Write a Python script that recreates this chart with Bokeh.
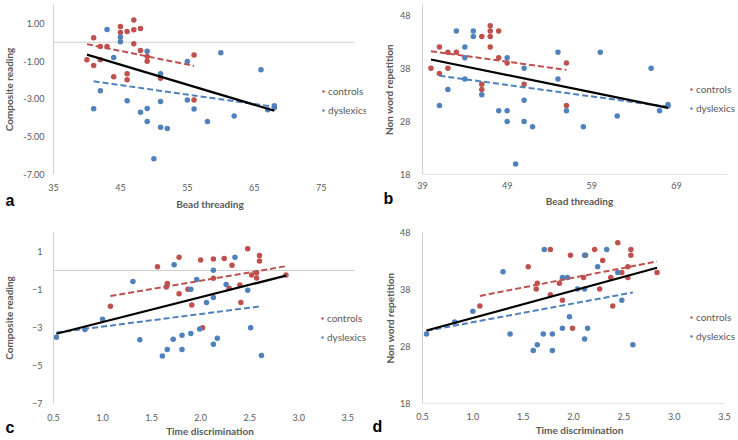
import numpy as np
from bokeh.plotting import figure
from bokeh.models import Range1d, FixedTicker, NumeralTickFormatter, Legend, LegendItem, Title
from bokeh.layouts import column, row
from bokeh.embed import file_html
from bokeh.resources import INLINE

# ---------------- data ----------------
# Panel a: Bead threading vs Composite reading
a_ctrl_x = [40, 41, 41, 42, 42, 43, 44, 45, 45, 46, 46, 46, 47, 47, 47, 48, 48, 49, 49, 51, 56, 56]
a_ctrl_y = [-0.93, 0.24, -1.23, -0.22, -0.93, -0.22, -1.83, 0.84, 0.52, 0.57, -1.67, -1.99,
            0.66, 1.18, -0.08, 0.73, -0.43, -0.75, -1.00, -1.90, -0.68, -3.05]
a_dys_x = [41, 42, 43, 44, 45, 45, 46, 48, 49, 49, 49, 50, 51, 51, 51, 52, 55, 55, 56, 58,
           60, 62, 66, 67, 68, 68]
a_dys_y = [-3.52, -2.57, 0.68, -0.81, 0.27, 0.03, -3.09, -3.71, -0.47, -3.50, -4.20, -6.17,
           -1.67, -3.14, -4.50, -4.56, -1.02, -3.05, -3.53, -4.20, -0.55, -3.90, -1.45,
           -3.57, -3.46, -3.36]

# Panel b: Bead threading vs Non word repetition
b_ctrl_x = [40, 41, 41, 42, 42, 43, 46, 46, 46, 47, 47, 47, 47, 48, 48, 49, 51, 56, 56]
b_ctrl_y = [38, 42, 37, 41, 38, 41, 44, 35, 34, 46, 45, 44, 42, 45, 40, 39, 35, 39, 31]
b_dys_x = [41, 42, 43, 44, 44, 44, 45, 45, 46, 48, 49, 49, 49, 50, 51, 51, 51, 52, 55, 55,
           56, 58, 60, 62, 66, 67, 68, 68]
b_dys_y = [31, 34, 45, 42, 40, 36, 45, 44, 33, 30, 30, 28, 40, 20, 38, 32, 28, 27, 41, 36,
           30, 27, 41, 29, 38, 30, 31.2, 30.9]

# Panel c: Time discrimination vs Composite reading
c_ctrl_x = [1.08, 1.56, 1.65, 1.66, 1.78, 1.78, 1.87, 1.91, 2.00, 2.02, 2.13, 2.13, 2.24,
            2.29, 2.32, 2.40, 2.41, 2.48, 2.52, 2.57, 2.57, 2.60, 2.60, 2.87]
c_ctrl_y = [-1.88, 0.20, -0.87, -0.69, 0.70, -1.23, -0.99, -1.82, 0.55, -3.01, 0.60, -0.41,
            0.63, -0.93, 0.28, -0.76, -1.68, 1.14, -0.24, -0.12, -0.40, 0.79, 0.50, -0.24]
c_dys_x = [0.53, 0.82, 1.00, 1.31, 1.38, 1.61, 1.66, 1.72, 1.73, 1.81, 1.81, 1.90, 1.90,
           1.96, 1.99, 2.06, 2.13, 2.13, 2.13, 2.17, 2.26, 2.35, 2.48, 2.51, 2.62]
c_dys_y = [-3.51, -3.10, -2.57, -0.58, -3.65, -4.50, -4.16, -3.62, 0.30, -4.16, -3.41, -3.32,
           -0.99, -0.48, -3.08, -1.68, 0.01, -1.42, -3.88, -3.56, -0.74, 0.70, -1.04, -3.01,
           -4.47]

# Panel d: Time discrimination vs Non word repetition
d_ctrl_x = [1.07, 1.55, 1.63, 1.64, 1.77, 1.77, 1.86, 1.89, 1.97, 1.99, 2.10, 2.12, 2.21,
            2.26, 2.29, 2.37, 2.39, 2.44, 2.48, 2.54, 2.54, 2.57, 2.57, 2.83]
d_ctrl_y = [35.1, 42.0, 38.1, 39.1, 45.0, 37.1, 39.1, 36.1, 44.0, 31.2, 40.1, 44.0, 45.0,
            38.1, 43.1, 40.1, 35.1, 46.2, 41.0, 42.0, 40.1, 45.0, 44.0, 41.0]
d_dys_x = [0.54, 0.82, 1.00, 1.30, 1.37, 1.60, 1.64, 1.70, 1.71, 1.79, 1.79, 1.89, 1.89,
           1.94, 1.96, 2.04, 2.11, 2.11, 2.11, 2.14, 2.24, 2.33, 2.44, 2.48, 2.59]
d_dys_y = [30.2, 32.3, 34.2, 41.1, 30.2, 27.3, 28.3, 30.2, 45.0, 30.2, 27.3, 40.1, 31.2,
           40.1, 33.2, 38.1, 44.0, 38.1, 29.3, 31.2, 42.0, 45.0, 41.0, 36.1, 28.3]

# axis extents (where the Excel axis lines end) and tick values
bead_a_limits = [35, 80]
bead_b_limits = [39, 75]
time_c_limits = [0.5, 3.57]
time_d_limits = [0.5, 3.5]
comp_limits = [-7, 2]
nwr_b_limits = [18, 50]
nwr_d_limits = [18, 48]
bead_a_ticks = [35, 45, 55, 65, 75]
bead_b_ticks = [39, 49, 59, 69]
time_ticks = [0.5, 1.0, 1.5, 2.0, 2.5, 3.0, 3.5]
comp_ticks = [-7, -5, -3, -1, 1]
nwr_ticks = [18, 28, 38, 48]
series_names = ["controls", "dyslexics"]
panel_letters = ["a", "b", "c", "d"]
x_titles = ["Bead threading", "Bead threading", "Time discrimination", "Time discrimination"]
y_titles = ["Composite reading", "Non word repetition", "Composite reading", "Non word repetition"]

# ---------------- style ----------------
RED, BLUE = "#C0504D", "#4F81BD"
TEXT = "#595959"
AXIS = "#D0D0D0"
FONT = "Lato"


def fit_line(x, y):
    x = np.asarray(x, float)
    y = np.asarray(y, float)
    k, b = np.polyfit(x, y, 1)
    xs = np.array([x.min(), x.max()])
    return xs, k * xs + b


def panel(w, h, xlim, ylim, frame_w, borders, xticks, yticks, xfmt, yfmt, xlab, ylab,
          hline_y, stand, ctrl, dys, leg_loc, letter, letter_off):
    # frame is wider than the nominal x extent so the legend fits inside it
    x_end = xlim[0] + (xlim[1] - xlim[0]) * frame_w[1] / frame_w[0]
    p = figure(width=w, height=h, x_range=Range1d(xlim[0], x_end), y_range=Range1d(*ylim),
               output_backend="svg", toolbar_location=None,
               min_border_left=borders[0], min_border_right=borders[1],
               min_border_top=borders[2], min_border_bottom=borders[3])
    p.outline_line_color = None
    p.grid.visible = False
    p.background_fill_color = "white"
    p.border_fill_color = "white"

    p.xaxis.ticker = FixedTicker(ticks=xticks)
    p.yaxis.ticker = FixedTicker(ticks=yticks)
    if xfmt:
        p.xaxis.formatter = NumeralTickFormatter(format=xfmt)
    if yfmt:
        p.yaxis.formatter = NumeralTickFormatter(format=yfmt)
    for ax in (p.xaxis[0], p.yaxis[0]):
        ax.major_tick_line_color = None
        ax.minor_tick_line_color = None
        ax.major_tick_out = 0
        ax.major_tick_in = 0
        ax.minor_tick_out = 0
        ax.minor_tick_in = 0
        ax.major_label_text_font = FONT
        ax.major_label_text_font_size = "9px"
        ax.major_label_text_color = TEXT
        ax.axis_label_text_font = FONT
        ax.axis_label_text_font_size = "10px"
        ax.axis_label_text_font_style = "bold"
        ax.axis_label_text_color = TEXT
    p.yaxis.axis_line_color = AXIS
    p.xaxis.axis_line_color = None
    p.xaxis.axis_label = xlab
    p.yaxis.axis_label = ylab
    p.xaxis.major_label_standoff = stand[0]
    p.xaxis.axis_label_standoff = stand[1]
    p.yaxis.major_label_standoff = stand[2]
    p.yaxis.axis_label_standoff = stand[3]

    # horizontal (category) axis line, Excel style, over its nominal extent
    p.line(xlim, [hline_y, hline_y], line_color=AXIS, line_width=1)

    r1 = p.scatter(ctrl[0], ctrl[1], size=5.5, color=RED, line_color=None)
    r2 = p.scatter(dys[0], dys[1], size=5.5, color=BLUE, line_color=None)

    xs, ys = fit_line(*ctrl)
    p.line(xs, ys, line_color=RED, line_width=2, line_dash="6 3")
    xs, ys = fit_line(*dys)
    p.line(xs, ys, line_color=BLUE, line_width=2, line_dash="6 3")
    xs, ys = fit_line(list(ctrl[0]) + list(dys[0]), list(ctrl[1]) + list(dys[1]))
    p.line(xs, ys, line_color="black", line_width=2.2)

    legend = Legend(items=[LegendItem(label=series_names[0], renderers=[r1]),
                           LegendItem(label=series_names[1], renderers=[r2])],
                    location=leg_loc, orientation="vertical",
                    border_line_color=None, background_fill_alpha=0,
                    padding=0, margin=0, spacing=3,
                    glyph_width=6, glyph_height=16, label_height=16, label_standoff=2,
                    label_text_font=FONT, label_text_font_size="10px",
                    label_text_color=TEXT)
    p.add_layout(legend)

    p.add_layout(Title(text=letter, align="left", offset=letter_off[0],
                       standoff=letter_off[1], vertical_align="top",
                       text_font="Liberation Sans", text_font_size="16px",
                       text_font_style="bold", text_color="black"), "below")
    return p


pa = panel(370, 218, bead_a_limits, comp_limits, (305, 317), (49, 4, 4, 44),
           bead_a_ticks, comp_ticks, None, "0.00", x_titles[0], y_titles[0], 0,
           (9, 4, 9, 5), (a_ctrl_x, a_ctrl_y), (a_dys_x, a_dys_y), (267, 56),
           panel_letters[0], (-48, -41))
pb = panel(368, 218, bead_b_limits, nwr_b_limits, (304.8, 314), (52, 2, 4, 42),
           bead_b_ticks, nwr_ticks, None, None, x_titles[1], y_titles[1], 18,
           (7, 3, 12, 2), (b_ctrl_x, b_ctrl_y), (b_dys_x, b_dys_y), (266, 58),
           panel_letters[1], (-39, -39))
pc = panel(370, 221, time_c_limits, comp_limits, (305, 317), (49, 4, 14, 35),
           time_ticks, comp_ticks, "0.0", None, x_titles[2], y_titles[2], 0,
           (10, 1, 11, 14), (c_ctrl_x, c_ctrl_y), (c_dys_x, c_dys_y), (266, 58),
           panel_letters[2], (-48, -41))
pd_ = panel(368, 221, time_d_limits, nwr_d_limits, (302, 314), (52, 2, 14, 34),
            time_ticks, nwr_ticks, "0.0", None, x_titles[3], y_titles[3], 18,
            (9, 1, 12, 1), (d_ctrl_x, d_ctrl_y), (d_dys_x, d_dys_y), (266, 59),
            panel_letters[3], (-50, -41))

layout = column(row(pa, pb, spacing=0), row(pc, pd_, spacing=0), spacing=0)
open("out.html", "w").write(file_html(layout, INLINE))
